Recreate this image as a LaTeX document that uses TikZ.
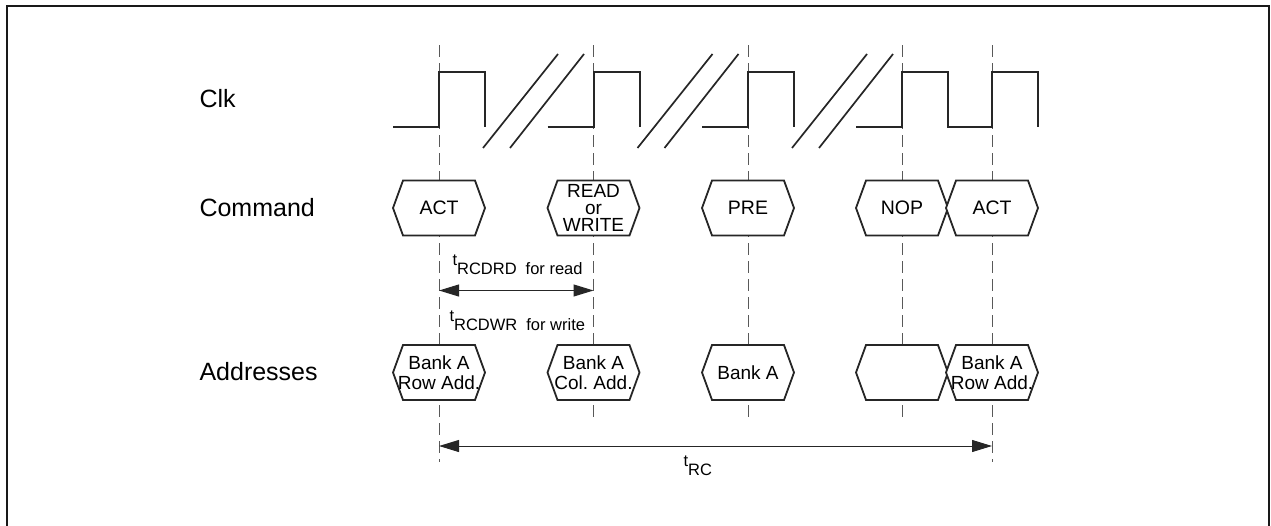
\documentclass[tikz,border=0pt]{standalone}
\usepackage{fontspec}
\setmainfont{Liberation Sans}
\usetikzlibrary{arrows.meta,shapes.symbols}
\frenchspacing

\tikzset{
  hexbox/.style={signal, signal to=east and west, signal pointer angle=140,
    draw=black!85, line width=1.8pt, fill=white, minimum width=92pt,
    minimum height=55pt, inner sep=0pt, align=center,
    font=\fontsize{19}{17}\selectfont},
  addbox/.style={hexbox, inner xsep=-6pt, font=\fontsize{19}{20}\selectfont},
  guide/.style={black!65, line width=1pt, dash pattern=on 12pt off 6pt},
  wave/.style={black!85, line width=2pt},
  span/.style={black!85, line width=1pt,
    {Triangle[length=20pt,width=12pt]}-{Triangle[length=20pt,width=12pt]}}
}

\begin{document}
\begin{tikzpicture}[x=1pt, y=-1pt]
        \useasboundingbox (0,0) rectangle (1271,525);
        \draw[black!90, line width=2pt] (7,526) -- (7,6) -- (1268.5,6) -- (1268.5,526);

        % guide lines
        \foreach \x/\e in {439/462, 593.5/422, 748/422, 902/422, 992/462}
            \draw[guide] (\x,45) -- (\x,\e);

        % row labels
        \node[anchor=west, font=\fontsize{25}{25}\selectfont] (clk) at (196,99) {Clk};
        \node[anchor=west, font=\fontsize{25}{25}\selectfont] (cmd) at (196,208) {Command};
        \node[anchor=west, font=\fontsize{25}{25}\selectfont] (addr) at (196,372) {Addresses};

        % clock
        \foreach \r in {439,593.5,748} {
            \draw[wave] (\r-46,127) -- (\r,127) -- (\r,72) -- (\r+46,72) -- (\r+46,127);
            \draw[wave, line width=1.7pt] (\r+44,148) -- (\r+119,54);
            \draw[wave, line width=1.7pt] (\r+71,148) -- (\r+145,54);
        }
        \draw[wave] (856,127) -- (902,127) -- (902,72) -- (948,72) -- (948,127)
            -- (992,127) -- (992,72) -- (1038,72) -- (1038,127);

        % command row
        \node[hexbox, font=\fontsize{19.5}{19.5}\selectfont] (act) at (439,208) {ACT};
        \node[hexbox] (rw) at (593.5,208) {READ\\or\\WRITE};
        \node[hexbox, font=\fontsize{19.5}{19.5}\selectfont] (pre) at (748,208) {PRE};
        \node[hexbox, font=\fontsize{19.5}{19.5}\selectfont] (nop) at (902,208) {NOP};
        \node[hexbox, font=\fontsize{19.5}{19.5}\selectfont] (act2) at (992,208) {ACT};

        % address row
        \node[addbox] (rowadd) at (439,372.5) {Bank A\\Row Add.};
        \node[addbox] (coladd) at (593.5,372.5) {Bank A\\Col. Add.};
        \node[addbox] (bank) at (748,372.5) {Bank A};
        \node[addbox] (nopadd) at (902,372.5) {};
        \node[addbox] (rowadd2) at (992,372.5) {Bank A\\Row Add.};

        % timings
        \coordinate (rd1) at (439,290.5);
        \coordinate (rd2) at (593.5,290.5);
        \draw[span] (rd1) -- (rd2);
        \node[anchor=base west, font=\fontsize{16.5}{16.5}\selectfont] (rcdrd) at (449,274)
            {\raisebox{9pt}{t}RCDRD\hspace{9pt}for read};
        \node[anchor=base west, font=\fontsize{16.5}{16.5}\selectfont] (rcdwr) at (446,330)
            {\raisebox{9pt}{t}RCDWR\hspace{9pt}for write};

        \coordinate (rc1) at (439,446);
        \coordinate (rc2) at (992,446);
        \draw[span] (rc1) -- (rc2);
        \node[anchor=base west, font=\fontsize{16.5}{16.5}\selectfont] (trc) at (680,475)
            {\raisebox{9pt}{t}RC};
\end{tikzpicture}
\end{document}
